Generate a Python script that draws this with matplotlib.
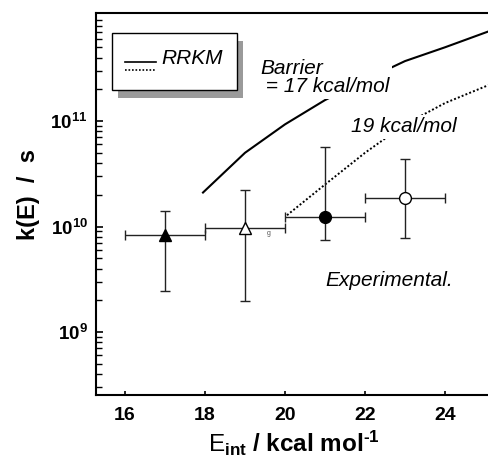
import matplotlib
matplotlib.use('Agg')
import matplotlib.pyplot as plt
from matplotlib.patches import Rectangle
from matplotlib.lines import Line2D
from matplotlib.ticker import FixedLocator, LogLocator, NullFormatter, FixedFormatter
import numpy as np

# experimental rate constants (central value, upper and lower bound) vs internal energy
e_int = [17, 19, 21, 23]
e_halfwidth = [1, 1, 1, 1]
k_exp = [8.3e9, 9.7e9, 1.24e10, 1.88e10]
k_upper = [1.39e10, 2.22e10, 5.7e10, 4.37e10]
k_lower = [2.47e9, 1.95e9, 7.5e9, 7.8e9]

# RRKM curves for two barrier heights
rrkm17_e = [17.95, 19.0, 20.0, 21.0, 22.0, 23.0, 24.0, 25.1]
rrkm17_k = [2.1e10, 5.0e10, 9.3e10, 1.58e11, 2.45e11, 3.7e11, 5.0e11, 7.1e11]
rrkm19_e = [20.05, 21.0, 22.0, 23.0, 24.0, 25.1]
rrkm19_k = [1.28e10, 2.5e10, 5.0e10, 9.3e10, 1.48e11, 2.2e11]

plt.rcParams.update({
    'font.family': 'Liberation Sans',
    'mathtext.fontset': 'custom',
    'mathtext.rm': 'Liberation Sans',
    'mathtext.bf': 'Liberation Sans:bold',
    'mathtext.it': 'Liberation Sans:italic',
})

fig = plt.figure(figsize=(4.88, 4.57), dpi=100)
fig.patch.set_facecolor('white')
ax = fig.add_axes([96 / 488, 62 / 457, 392 / 488, 382 / 457])

ax.plot(rrkm17_e, rrkm17_k, color='black', lw=1.5, zorder=2)
ax.plot(rrkm19_e, rrkm19_k, color='black', lw=1.4, ls=(0, (1, 1.1)), zorder=2)

styles = [('^', 'black'), ('^', 'white'), ('o', 'black'), ('o', 'white')]
for i, (mk, fc) in enumerate(styles):
    yerr = [[k_exp[i] - k_lower[i]], [k_upper[i] - k_exp[i]]]
    ax.errorbar([e_int[i]], [k_exp[i]], xerr=[e_halfwidth[i]], yerr=yerr,
                fmt='none', ecolor='#222222', elinewidth=1.0, capsize=3.6,
                capthick=1.0, zorder=3)
    ax.plot([e_int[i]], [k_exp[i]], marker=mk, ms=9 if mk == '^' else 8.5,
            mfc=fc, mec='black', mew=1.0, ls='none', zorder=4)

ax.set_yscale('log')
ax.set_xlim(15.275, 25.075)
ax.set_ylim(2.53e8, 1.057e12)

ax.xaxis.set_major_locator(FixedLocator([16, 18, 20, 22, 24]))
ax.set_xticklabels(['16', '18', '20', '22', '24'], fontweight='bold', fontsize=14)
ax.yaxis.set_major_locator(FixedLocator([1e9, 1e10, 1e11]))
ax.yaxis.set_major_formatter(FixedFormatter([r'$\mathbf{10}^{\mathbf{9}}$',
                                             r'$\mathbf{10}^{\mathbf{10}}$',
                                             r'$\mathbf{10}^{\mathbf{11}}$']))
ax.yaxis.set_minor_locator(LogLocator(base=10, subs=np.arange(2, 10)))
ax.yaxis.set_minor_formatter(NullFormatter())
for lab in ax.get_yticklabels():
    lab.set_fontsize(13.5)

ax.tick_params(axis='y', which='major', direction='in', length=5, width=1.2, pad=6)
ax.tick_params(axis='y', which='minor', direction='in', length=4, width=1.0)
ax.tick_params(axis='x', which='major', direction='in', length=3, width=1.2, pad=9)

for side in ['left', 'bottom', 'top']:
    ax.spines[side].set_linewidth(1.5)
ax.spines['right'].set_visible(False)

# legend box with drop shadow
shadow = Rectangle((0.056, 0.777), 0.319, 0.15, transform=ax.transAxes,
                   facecolor='#9a9a9a', edgecolor='none', zorder=5)
box = Rectangle((0.041, 0.798), 0.319, 0.15, transform=ax.transAxes,
                facecolor='white', edgecolor='black', lw=1.0, zorder=6)
ax.add_patch(shadow)
ax.add_patch(box)
ax.add_line(Line2D([0.074, 0.153], [0.872, 0.872], transform=ax.transAxes,
                   color='black', lw=1.2, zorder=7))
ax.add_line(Line2D([0.074, 0.153], [0.851, 0.851], transform=ax.transAxes,
                   color='black', lw=1.2, ls=(0, (1, 1.1)), zorder=7))
ax.text(0.168, 0.882, 'RRKM', transform=ax.transAxes, fontsize=15,
        style='italic', va='center', ha='left', zorder=7)

# curve and data annotations
white = dict(facecolor='white', edgecolor='none', pad=2)
ax.text(19.375, 2.58e11, 'Barrier\n = 17 kcal/mol', fontsize=15, style='italic',
        va='center', ha='left', linespacing=0.95, bbox=white, zorder=3)
ax.text(21.65, 8.8e10, '19 kcal/mol', fontsize=15, style='italic',
        va='center', ha='left', bbox=white, zorder=3)
ax.text(21.0, 3.1e9, 'Experimental.', fontsize=15, style='italic',
        va='center', ha='left')
ax.text(19.6, 8.5e9, 'g', fontsize=5, color='#555555', va='center', ha='center')

fig.text(29 / 488, 0.575, 'k(E)  /  s', rotation=90, fontsize=17,
         fontweight='bold', ha='center', va='center')
fig.text(0.602, 0.010, r'$\mathrm{E}_{\mathbf{int}}\ \mathbf{/\ kcal\ mol^{‐1}}$',
         fontsize=17.5, ha='center', va='baseline')

fig.savefig('out.png', dpi=100)
